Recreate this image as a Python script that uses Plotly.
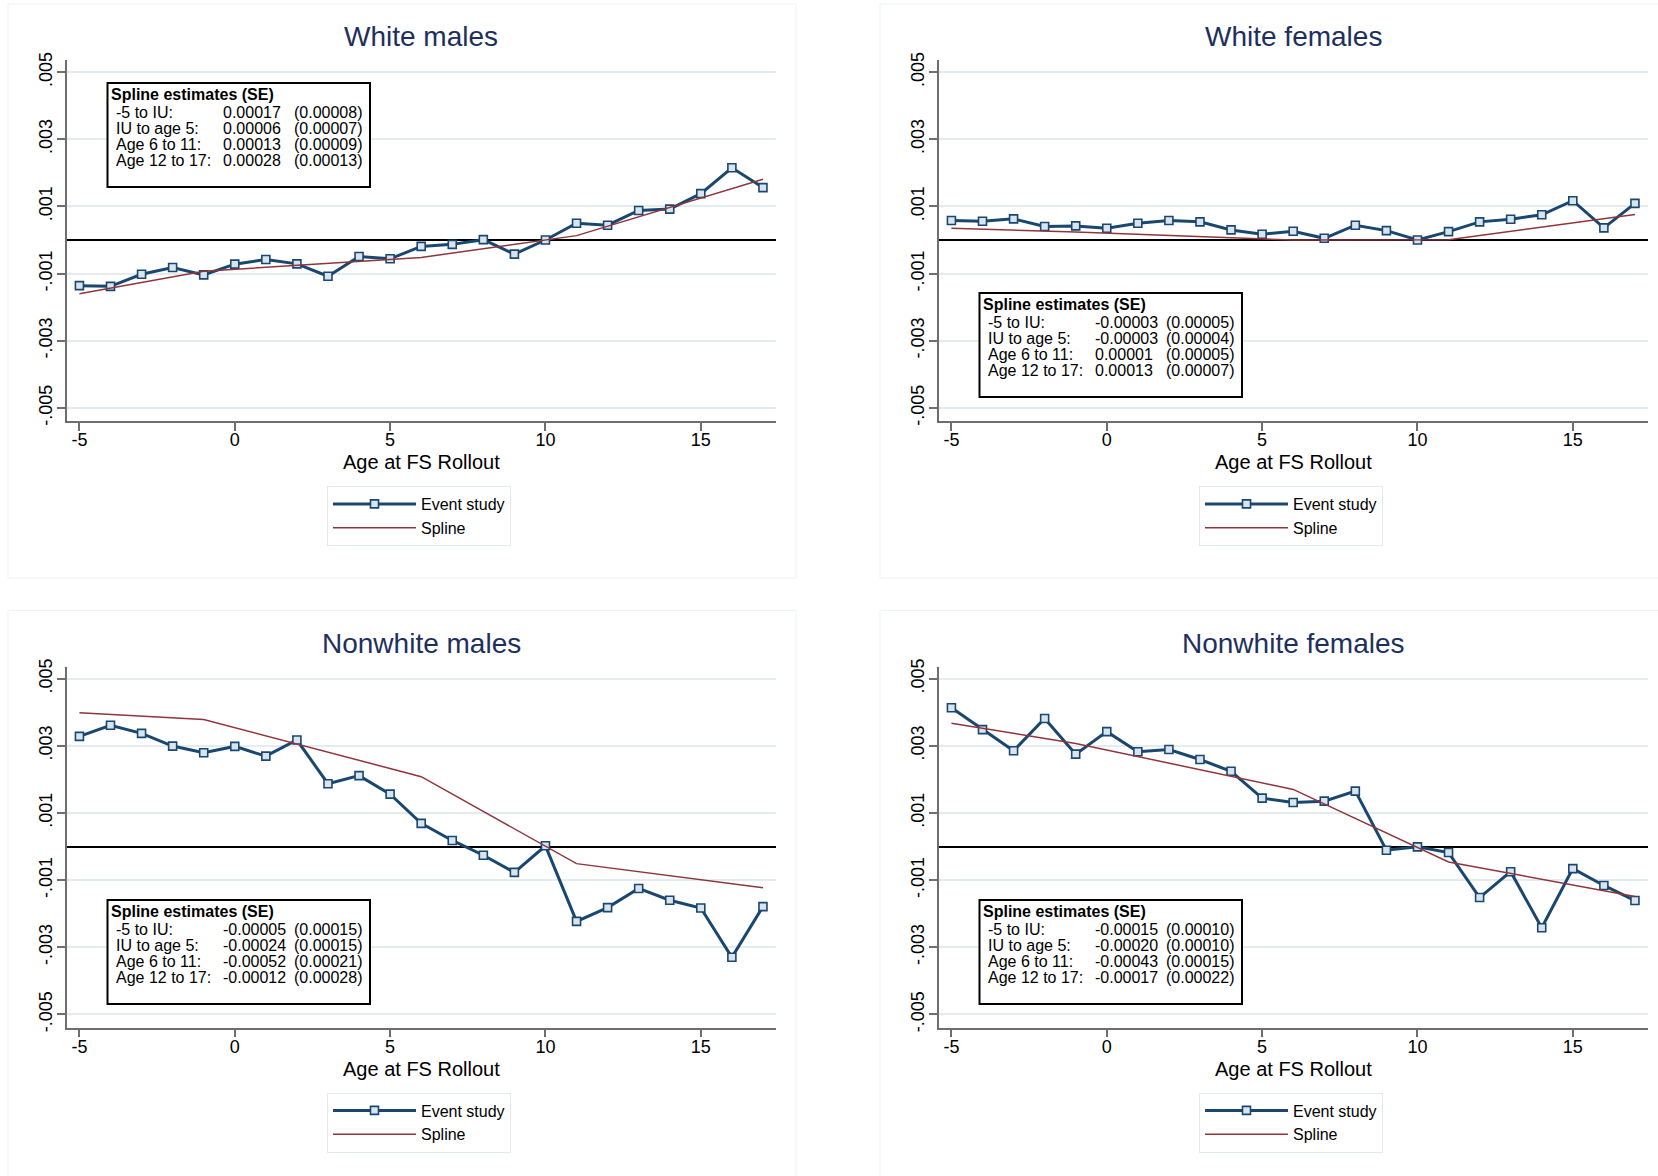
import plotly.graph_objects as go

# ---------------- data ----------------
ages = list(range(-5, 18))
knots = [-5, -1, 6, 11, 17]

wm_event = [-0.00136, -0.00138, -0.00102, -0.00082, -0.00104, -0.00072, -0.00058, -0.00071,
            -0.00108, -0.00049, -0.00056, -0.00019, -0.00013, 0.00001, -0.00042, 0.0,
            0.00050, 0.00044, 0.00088, 0.00092, 0.00138, 0.00215, 0.00156]
wm_spline = [-0.00160, -0.00093, -0.00052, 0.00013, 0.00181]

wf_event = [0.00058, 0.00056, 0.00063, 0.00040, 0.00042, 0.00035, 0.00050, 0.00058,
            0.00054, 0.00030, 0.00017, 0.00026, 0.00005, 0.00044, 0.00028, 0.0,
            0.00025, 0.00054, 0.00062, 0.00075, 0.00117, 0.00036, 0.00109]
wf_spline = [0.00035, 0.00024, 0.0, 0.00001, 0.00076]

nm_event = [0.00328, 0.00361, 0.00337, 0.00299, 0.00279, 0.00298, 0.00269, 0.00317,
            0.00187, 0.00211, 0.00156, 0.00069, 0.00018, -0.00026, -0.00077, 0.00002,
            -0.00223, -0.00182, -0.00125, -0.00160, -0.00183, -0.00330, -0.00179]
nm_spline = [0.00398, 0.00378, 0.00208, -0.00051, -0.00123]

nf_event = [0.00413, 0.00348, 0.00285, 0.00381, 0.00275, 0.00342, 0.00282, 0.00289,
            0.00259, 0.00224, 0.00144, 0.00131, 0.00135, 0.00165, -0.00011, -0.00001,
            -0.00018, -0.00152, -0.00075, -0.00242, -0.00066, -0.00116, -0.00161]
nf_spline = [0.00367, 0.00307, 0.00170, -0.00046, -0.00149]

titles = ["White males", "White females", "Nonwhite males", "Nonwhite females"]
x_ticks = [-5, 0, 5, 10, 15]
x_ticktext = ["-5", "0", "5", "10", "15"]
y_ticks = [0.005, 0.003, 0.001, -0.001, -0.003, -0.005]
y_ticktext = [".005", ".003", ".001", "-.001", "-.003", "-.005"]

row_labels = ["-5 to IU:", "IU to age 5:", "Age 6 to 11:", "Age 12 to 17:"]
wm_est = ["0.00017", "0.00006", "0.00013", "0.00028"]
wm_se = ["(0.00008)", "(0.00007)", "(0.00009)", "(0.00013)"]
wf_est = ["-0.00003", "-0.00003", "0.00001", "0.00013"]
wf_se = ["(0.00005)", "(0.00004)", "(0.00005)", "(0.00007)"]
nm_est = ["-0.00005", "-0.00024", "-0.00052", "-0.00012"]
nm_se = ["(0.00015)", "(0.00015)", "(0.00021)", "(0.00028)"]
nf_est = ["-0.00015", "-0.00020", "-0.00043", "-0.00017"]
nf_se = ["(0.00010)", "(0.00010)", "(0.00015)", "(0.00022)"]

# ---------------- layout helpers ----------------
W, H = 1658, 1176
FONT = "Liberation Sans, Arial, sans-serif"
NAVY = "#1a476f"
MAROON = "#90353b"
TITLE_C = "#1e2f5e"
AXIS_C = "#6e6e6e"
GRID_C = "#e4ecf0"


def fx(x):
    return x / W


def fy(y):
    return 1 - y / H


panels = [
    dict(ev=wm_event, sp=wm_spline, est=wm_est, se=wm_se, dx=0, dy=0, box_top=83),
    dict(ev=wf_event, sp=wf_spline, est=wf_est, se=wf_se, dx=872, dy=0, box_top=293),
    dict(ev=nm_event, sp=nm_spline, est=nm_est, se=nm_se, dx=0, dy=606.5, box_top=293.5),
    dict(ev=nf_event, sp=nf_spline, est=nf_est, se=nf_se, dx=872, dy=606.5, box_top=293.5),
]

fig = go.Figure()
shapes = []
annotations = []
layout_axes = {}

for i, p in enumerate(panels):
    n = i + 1
    sfx = "" if n == 1 else str(n)
    dx, dy = p["dx"], p["dy"]
    legend_name = "legend" if n == 1 else f"legend{n}"

    # panel background frame
    shapes.append(dict(type="rect", xref="paper", yref="paper",
                       x0=fx(8 + dx), x1=fx(796 + dx + (40 if dx else 0)),
                       y0=fy(578 + dy + (40 if dy else 0)), y1=fy(4 + dy),
                       line=dict(color="#edf2f4", width=1), fillcolor="rgba(0,0,0,0)",
                       layer="below"))

    fig.add_trace(go.Scatter(
        x=ages, y=p["ev"], mode="lines+markers", name="Event study",
        xaxis=f"x{sfx}", yaxis=f"y{sfx}", legend=legend_name, legendgroup=f"ev{n}",
        line=dict(color=NAVY, width=3),
        marker=dict(symbol="square", size=8, color="#d9e4ec",
                    line=dict(color=NAVY, width=1.6)),
        showlegend=True))
    fig.add_trace(go.Scatter(
        x=knots, y=p["sp"], mode="lines", name="Spline",
        xaxis=f"x{sfx}", yaxis=f"y{sfx}", legend=legend_name, legendgroup=f"sp{n}",
        line=dict(color=MAROON, width=1.5),
        showlegend=True))

    layout_axes[f"xaxis{sfx}"] = dict(
        domain=[fx(67 + dx), fx(776 + dx)], range=[-5.4, 17.42], automargin=False,
        anchor=f"y{sfx}", tickvals=x_ticks, ticktext=x_ticktext,
        showgrid=False, zeroline=False, showline=True, linecolor=AXIS_C, linewidth=1.5,
        ticks="outside", ticklen=8, tickwidth=1.5, tickcolor=AXIS_C, ticklabelstandoff=-6,
        tickfont=dict(family=FONT, size=18, color="black"), fixedrange=True)
    layout_axes[f"yaxis{sfx}"] = dict(
        domain=[fy(421 + dy), fy(60 + dy)], range=[-0.00539, 0.00536], automargin=False,
        anchor=f"x{sfx}", tickvals=y_ticks, ticktext=y_ticktext, tickangle=-90,
        showgrid=True, gridcolor=GRID_C, gridwidth=1.5,
        zeroline=True, zerolinecolor="black", zerolinewidth=2,
        showline=True, linecolor=AXIS_C, linewidth=1.5,
        ticks="outside", ticklen=8, tickwidth=1.5, tickcolor=AXIS_C, ticklabelstandoff=-2,
        tickfont=dict(family=FONT, size=18, color="black"), fixedrange=True)

    layout_axes[legend_name] = dict(
        x=fx(327 + dx), y=fy(486 + dy), xanchor="left", yanchor="top",
        bgcolor="white", bordercolor="#e3eaee", borderwidth=1,
        font=dict(family=FONT, size=16, color="black"),
        itemwidth=83, tracegroupgap=8, traceorder="normal")

    # title
    annotations.append(dict(xref="paper", yref="paper", x=fx(421 + dx), y=fy(37 + dy),
                            text=titles[i], showarrow=False, xanchor="center", yanchor="middle",
                            font=dict(family=FONT, size=28, color=TITLE_C)))
    # x-axis title
    annotations.append(dict(xref="paper", yref="paper", x=fx(421 + dx), y=fy(462 + dy),
                            text="Age at FS Rollout", showarrow=False, xanchor="center",
                            yanchor="middle", font=dict(family=FONT, size=20, color="black")))

    # spline-estimates box
    bx0 = 107.5 + dx
    by0 = p["box_top"] + dy
    shapes.append(dict(type="rect", xref="paper", yref="paper",
                       x0=fx(bx0), x1=fx(bx0 + 262.5), y0=fy(by0 + 104), y1=fy(by0),
                       line=dict(color="black", width=2), fillcolor="white", layer="above"))
    annotations.append(dict(xref="paper", yref="paper", x=fx(bx0 + 1), y=fy(by0 + 11.5),
                            text="<b>Spline estimates (SE)</b>", showarrow=False,
                            xanchor="left", yanchor="middle",
                            font=dict(family=FONT, size=16, color="black")))
    for r in range(4):
        yy = fy(by0 + 29.5 + 16 * r)
        for txt, xoff in ((row_labels[r], 6), (p["est"][r], 113.5), (p["se"][r], 184.5)):
            annotations.append(dict(xref="paper", yref="paper", x=fx(bx0 + xoff), y=yy,
                                    text=txt, showarrow=False, xanchor="left",
                                    yanchor="middle",
                                    font=dict(family=FONT, size=16, color="black")))

fig.update_layout(
    width=W, height=H, autosize=False,
    margin=dict(l=0, r=0, t=0, b=0, autoexpand=False),
    paper_bgcolor="white", plot_bgcolor="white",
    font=dict(family=FONT, color="black"),
    shapes=shapes, annotations=annotations,
    **layout_axes)

fig.write_html("out.html", config={"displayModeBar": False},
               post_script="document.body.style.margin='0';document.body.style.overflow='hidden';")
